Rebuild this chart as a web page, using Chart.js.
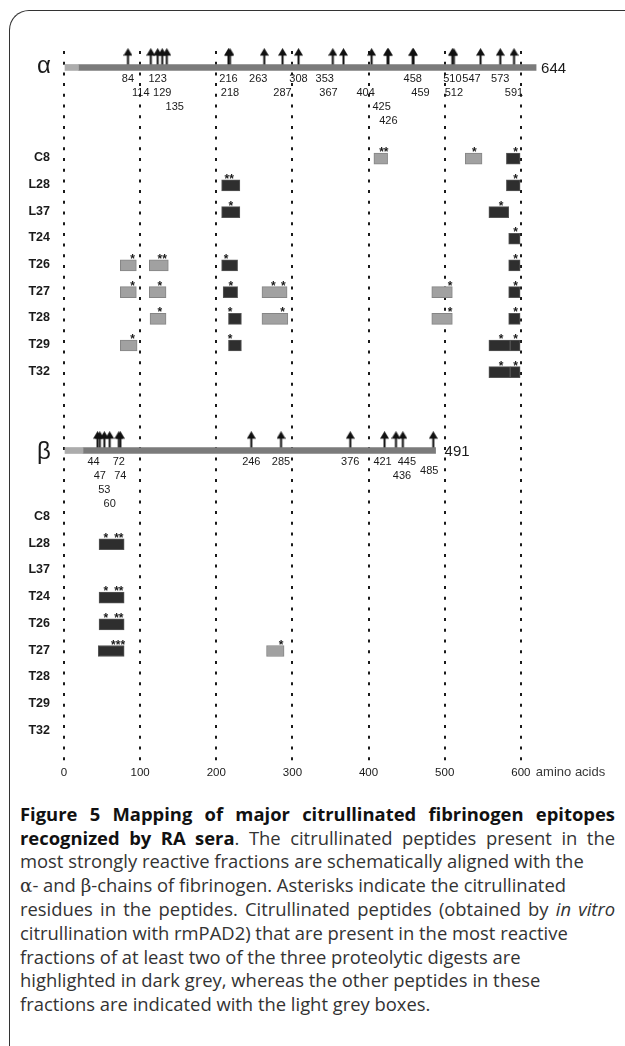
<!DOCTYPE html>
<html>
<head>
<meta charset="utf-8">
<script src="https://cdn.jsdelivr.net/npm/chart.js@4.4.0/dist/chart.umd.min.js"></script>
<style>
  html, body { margin: 0; padding: 0; background: #fff; }
  body { width: 625px; height: 1046px; position: relative; overflow: hidden; }
  #frame { position: absolute; left: 9px; top: 10px; width: 700px; height: 1100px;
           border-top: 1px solid #333; border-left: 1px solid #333; border-top-left-radius: 20px; }
  #chart { position: absolute; left: 0; top: 0; }
  #caption { position: absolute; left: 20px; top: 802px; width: 595px;
             font-family: "Open Sans", "Noto Sans", sans-serif; font-size: 18.4px; line-height: 23.6px; color: #333; }
  #caption div { white-space: nowrap; }
  #caption div.j { text-align: justify; text-align-last: justify; white-space: normal; }
  #caption b { color: #111; }
  #caption .g { font-family: "DejaVu Serif", "Liberation Serif", serif; }
</style>
</head>
<body>
<div id="frame"></div>
<canvas id="chart" width="625" height="790"></canvas>
<div id="caption">
  <div class="j"><b>Figure 5 Mapping of major citrullinated fibrinogen epitopes</b></div>
  <div class="j"><b>recognized by RA sera</b>. The citrullinated peptides present in the</div>
  <div>most strongly reactive fractions are schematically aligned with the</div>
  <div><span class="g">α</span>- and <span class="g">β</span>-chains of fibrinogen. Asterisks indicate the citrullinated</div>
  <div class="j">residues in the peptides. Citrullinated peptides (obtained by <i>in vitro</i></div>
  <div>citrullination with rmPAD2) that are present in the most reactive</div>
  <div>fractions of at least two of the three proteolytic digests are</div>
  <div>highlighted in dark grey, whereas the other peptides in these</div>
  <div>fractions are indicated with the light grey boxes.</div>
</div>
<script>
// ---- data (amino-acid positions) ----
const ROW_NAMES = ['C8', 'L28', 'L37', 'T24', 'T26', 'T27', 'T28', 'T29', 'T32'];

// chain: [signal peptide end, end of drawn bar]
const ALPHA_CHAIN = [19, 620];
const BETA_CHAIN = [25, 488];
const ALPHA_LENGTH_LABEL = '644';
const BETA_LENGTH_LABEL = '491';

// arrows = citrullinated arginines, with label row under the bar
const ALPHA_SITES = [84, 114, 123, 129, 135, 216, 218, 263, 287, 308, 353, 367, 404, 425, 426, 458, 459, 510, 512, 547, 573, 591];
const ALPHA_SITE_ROWS = [0, 1, 0, 1, 2, 0, 1, 0, 1, 0, 0, 1, 1, 2, 3, 0, 1, 0, 1, 0, 0, 1];
const BETA_SITES = [44, 47, 53, 60, 72, 74, 246, 285, 376, 421, 436, 445, 485];
const BETA_SITE_ROWS = [0, 1, 2, 3, 0, 1, 0, 0, 0, 0, 1, 0, 0.65];

// peptides: [row, start, end]
const ALPHA_DARK = [
  ['C8', 581, 599],
  ['L28', 207, 231], ['L28', 581, 599],
  ['L37', 207, 231], ['L37', 558, 584],
  ['T24', 584, 599],
  ['T26', 207, 228], ['T26', 584, 599],
  ['T27', 209, 228], ['T27', 584, 599],
  ['T28', 216, 233], ['T28', 584, 599],
  ['T29', 216, 233], ['T29', 558, 586], ['T29', 586, 599],
  ['T32', 558, 586], ['T32', 586, 599]
];
const ALPHA_LIGHT = [
  ['C8', 407, 425], ['C8', 527, 549],
  ['T26', 74, 95], ['T26', 112, 137],
  ['T27', 74, 95], ['T27', 112, 134], ['T27', 260, 293], ['T27', 483, 510],
  ['T28', 113, 134], ['T28', 260, 294], ['T28', 483, 510],
  ['T29', 74, 96]
];
const BETA_DARK = [
  ['L28', 46, 79], ['T24', 46, 79], ['T26', 46, 79], ['T27', 45, 79]
];
const BETA_LIGHT = [
  ['T27', 266, 289]
];

// asterisks: [row, position, marks]
const ALPHA_STARS = [
  ['C8', 420, '**'], ['C8', 539, '*'], ['C8', 593, '*'],
  ['L28', 217, '**'], ['L28', 593, '*'],
  ['L37', 219, '*'], ['L37', 574, '*'],
  ['T24', 593, '*'],
  ['T26', 90, '*'], ['T26', 129, '**'], ['T26', 213, '*'], ['T26', 593, '*'],
  ['T27', 90, '*'], ['T27', 126, '*'], ['T27', 219, '*'], ['T27', 275, '*'], ['T27', 288, '*'], ['T27', 507, '*'], ['T27', 593, '*'],
  ['T28', 126, '*'], ['T28', 218, '*'], ['T28', 287, '*'], ['T28', 507, '*'], ['T28', 593, '*'],
  ['T29', 90, '*'], ['T29', 218, '*'], ['T29', 574, '*'], ['T29', 593, '*'],
  ['T32', 574, '*'], ['T32', 593, '*']
];
const BETA_STARS = [
  ['L28', 55, '*'], ['L28', 72, '**'],
  ['T24', 55, '*'], ['T24', 72, '**'],
  ['T26', 55, '*'], ['T26', 72, '**'],
  ['T27', 71, '***'], ['T27', 285, '*']
];

// ---- layout (scale units, 1 = one row) ----
const Y_MAX = 25.2;
const ALPHA_BAR_Y = -0.124;
const ALPHA_ROW0 = 3.26;
const BETA_BAR_Y = 14.23;
const BETA_ROW0 = 16.71;
const ARROW_LIFT = 0.407;
const BAR_SHIFT = 0.035;
// small px nudges where the printed numbers sit off their arrow
const LABEL_NUDGE = {
  a114: -10, a135: 8, a263: -6, a353: -8, a367: -15, a404: -6, a425: -6, a459: 7, a547: -9,
  b44: -4, b421: -2, b445: 4, b436: 6, b485: -4
};
const FONT = '"Liberation Sans", Arial, sans-serif';

const rowY = (row0, name) => row0 + ROW_NAMES.indexOf(name);
const toBars = (list, row0) => list.map(([r, a, b]) => ({x: [a, b], y: rowY(row0, r) + BAR_SHIFT}));

const rowTicks = [...ROW_NAMES.map((n, i) => ALPHA_ROW0 + i), ...ROW_NAMES.map((n, i) => BETA_ROW0 + i)];
const rowLabels = [...ROW_NAMES, ...ROW_NAMES];

function makeArrow() {
  const c = document.createElement('canvas');
  c.width = 9; c.height = 17;
  const g = c.getContext('2d');
  g.fillStyle = '#111';
  g.beginPath();
  g.moveTo(4.5, 0); g.lineTo(9, 7.5); g.lineTo(0, 7.5); g.closePath();
  g.fill();
  g.fillRect(3.5, 6, 2, 11);
  return c;
}
const ARROW = makeArrow();

const arrowPoints = [
  ...ALPHA_SITES.map(v => ({x: v, y: ALPHA_BAR_Y - ARROW_LIFT})),
  ...BETA_SITES.map(v => ({x: v, y: BETA_BAR_Y - ARROW_LIFT}))
];

const annotate = {
  id: 'annotate',
  afterDatasetsDraw(chart) {
    const {ctx, scales: {x, y}} = chart;
    ctx.save();
    ctx.fillStyle = '#1a1a1a';
    ctx.textBaseline = 'middle';

    // chain names and lengths
    const ya = y.getPixelForValue(ALPHA_BAR_Y);
    const yb = y.getPixelForValue(BETA_BAR_Y);
    ctx.textAlign = 'center';
    ctx.font = '24px ' + FONT;
    ctx.fillText('α', x.left - 20, ya - 1);
    ctx.fillText('β', x.left - 20, yb + 2);
    ctx.textAlign = 'left';
    ctx.font = '15px ' + FONT;
    ctx.fillText(ALPHA_LENGTH_LABEL, x.getPixelForValue(ALPHA_CHAIN[1]) + 5, ya + 1);
    ctx.fillText(BETA_LENGTH_LABEL, x.getPixelForValue(BETA_CHAIN[1]) + 9, yb + 1);

    // residue numbers under the bars
    ctx.textAlign = 'center';
    ctx.font = '11px ' + FONT;
    ALPHA_SITES.forEach((v, i) => {
      ctx.fillText(String(v), x.getPixelForValue(v) + (LABEL_NUDGE['a' + v] || 0), ya + 11 + 14 * ALPHA_SITE_ROWS[i]);
    });
    BETA_SITES.forEach((v, i) => {
      ctx.fillText(String(v), x.getPixelForValue(v) + (LABEL_NUDGE['b' + v] || 0), yb + 11 + 14 * BETA_SITE_ROWS[i]);
    });

    // asterisks over the peptides
    ctx.font = 'bold 12px ' + FONT;
    ctx.textBaseline = 'alphabetic';
    const stars = (list, row0) => list.forEach(([r, v, s]) => {
      const top = y.getPixelForValue(rowY(row0, r) + BAR_SHIFT) - 5.5;
      ctx.fillText(s, x.getPixelForValue(v), top + 3);
    });
    stars(ALPHA_STARS, ALPHA_ROW0);
    stars(BETA_STARS, BETA_ROW0);

    // unit after the last tick
    ctx.font = '13px ' + FONT;
    ctx.fillStyle = '#3a3a3a';
    ctx.textAlign = 'left';
    ctx.textBaseline = 'middle';
    ctx.fillText('amino acids', x.getPixelForValue(600) + 15, x.top + 9);
    ctx.restore();
  }
};

const barBase = {grouped: false, clip: false, borderSkipped: false};

new Chart(document.getElementById('chart'), {
  type: 'bar',
  data: {
    datasets: [
      {...barBase, data: [{x: [0, ALPHA_CHAIN[0]], y: ALPHA_BAR_Y}, {x: [0, BETA_CHAIN[0]], y: BETA_BAR_Y}],
       backgroundColor: '#acacac', barThickness: 6, borderWidth: 0},
      {...barBase, data: [{x: ALPHA_CHAIN, y: ALPHA_BAR_Y}, {x: BETA_CHAIN, y: BETA_BAR_Y}],
       backgroundColor: '#7b7b7b', barThickness: 6, borderWidth: 0},
      {...barBase, data: [...toBars(ALPHA_LIGHT, ALPHA_ROW0), ...toBars(BETA_LIGHT, BETA_ROW0)],
       backgroundColor: '#a1a1a1', borderColor: '#858585', borderWidth: 1, barThickness: 11},
      {...barBase, data: [...toBars(ALPHA_DARK, ALPHA_ROW0), ...toBars(BETA_DARK, BETA_ROW0)],
       backgroundColor: '#2e2e2e', borderColor: '#555', borderWidth: 1, barThickness: 11},
      {type: 'scatter', indexAxis: 'x', data: arrowPoints, pointStyle: ARROW, clip: false}
    ]
  },
  options: {
    indexAxis: 'y',
    responsive: false,
    animation: false,
    devicePixelRatio: 1,
    layout: {padding: {top: 51, right: 28, left: 0, bottom: 0}},
    plugins: {legend: {display: false}, tooltip: {enabled: false}},
    scales: {
      x: {
        type: 'linear',
        position: 'bottom',
        min: 0,
        max: 700,
        afterBuildTicks: s => { s.ticks = s.ticks.filter(t => t.value <= 600); },
        afterFit: s => { s.height = 27; },
        ticks: {stepSize: 100, padding: 3, color: '#1a1a1a', font: {family: FONT, size: 11.5}, maxRotation: 0},
        grid: {color: '#1a1a1a', lineWidth: 2, drawTicks: false},
        border: {display: false, dash: [3, 7.7]}
      },
      y: {
        type: 'linear',
        reverse: true,
        min: 0,
        max: Y_MAX,
        afterBuildTicks: s => { s.ticks = rowTicks.map(v => ({value: v})); },
        afterFit: s => { s.width = 64; },
        ticks: {
          autoSkip: false,
          padding: 6,
          color: '#1a1a1a',
          font: {family: FONT, size: 12.5, weight: 'bold'},
          callback: (v, i) => rowLabels[i]
        },
        grid: {display: false},
        border: {display: false}
      }
    }
  },
  plugins: [annotate]
});
</script>
</body>
</html>
